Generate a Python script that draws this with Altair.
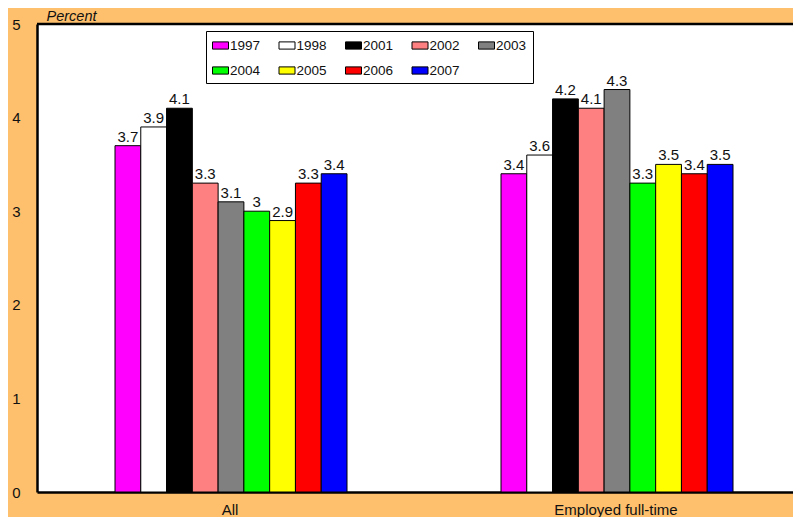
import altair as alt
import pandas as pd

groups = ["All", "Employed full-time"]
years = ["1997", "1998", "2001", "2002", "2003", "2004", "2005", "2006", "2007"]
colors = ["#FF00FF", "#FFFFFF", "#000000", "#FF8080", "#808080",
          "#00FF00", "#FFFF00", "#FF0000", "#0000FF"]
all_vals = [3.7, 3.9, 4.1, 3.3, 3.1, 3.0, 2.9, 3.3, 3.4]
emp_vals = [3.4, 3.6, 4.2, 4.1, 4.3, 3.3, 3.5, 3.4, 3.5]
y_ticks = [0, 1, 2, 3, 4, 5]

rows = []
for g, vals in zip(groups, [all_vals, emp_vals]):
    for yr, v in zip(years, vals):
        rows.append({"group": g, "year": yr, "value": v})
df = pd.DataFrame(rows)

FONT = "Liberation Sans"
BG = "#FEC06C"

x_enc = alt.X("group:N", sort=groups,
              scale=alt.Scale(range=[0, 772], paddingInner=0, paddingOuter=0),
              axis=alt.Axis(title=None, labelAngle=0, ticks=False, tickSize=0,
                            domain=True, domainColor="black", domainWidth=2.5,
                            labelPadding=10, labelFontSize=15,
                            labelFont=FONT, labelColor="#111"))
xo_enc = alt.XOffset("year:N", sort=years,
                     scale=alt.Scale(range=[78, 310], paddingInner=0, paddingOuter=0))
y_enc = alt.Y("value:Q",
              scale=alt.Scale(domain=[0, 5], nice=False),
              axis=alt.Axis(values=y_ticks, format="d", grid=False, ticks=False,
                            tickSize=0, domain=True, domainColor="black",
                            domainWidth=2.5, labelPadding=17,
                            labelFontSize=15, labelFont=FONT, labelColor="#111",
                            title="Percent", titleAngle=0, titleAlign="left",
                            titleBaseline="top", titleX=9, titleY=-15,
                            titleFont=FONT, titleFontSize=14.5,
                            titleFontStyle="italic", titleFontWeight="normal",
                            titleColor="#111"))

bars = alt.Chart(df).mark_bar(stroke="black", strokeWidth=1).encode(
    x=x_enc, xOffset=xo_enc, y=y_enc,
    color=alt.Color("year:N", sort=years,
                    scale=alt.Scale(domain=years, range=colors),
                    legend=alt.Legend(
                        title=None, orient="none", legendX=169, legendY=7,
                        columns=5, direction="horizontal",
                        columnPadding=15.5, rowPadding=10,
                        symbolType="M-1,-0.45H1V0.45H-1Z", symbolSize=256,
                        symbolStrokeColor="black", symbolStrokeWidth=1,
                        labelFont=FONT, labelFontSize=13.5, labelColor="#111",
                        labelOffset=1, padding=6, strokeColor="black",
                        fillColor="white", cornerRadius=0)),
)

labels = alt.Chart(df).mark_text(
    baseline="bottom", dy=-1, font=FONT, fontSize=15, color="#111"
).encode(
    x=alt.X("group:N", sort=groups), xOffset=alt.XOffset("year:N", sort=years),
    y="value:Q",
    text=alt.Text("value:Q", format="~g"),
)

top_border = alt.Chart(pd.DataFrame({"y": [5]})).mark_rule(
    color="black", strokeWidth=2.5
).encode(y="y:Q")

chart = alt.layer(bars, labels, top_border).properties(
    width=756, height=468,
    autosize=alt.AutoSizeParams(type="none"),
    padding={"left": 29, "top": 16, "right": 0, "bottom": 25},
    background=BG,
).configure_view(
    stroke=None, fill="white"
)

chart.save("out.html", embed_options={"renderer": "svg", "actions": False})
